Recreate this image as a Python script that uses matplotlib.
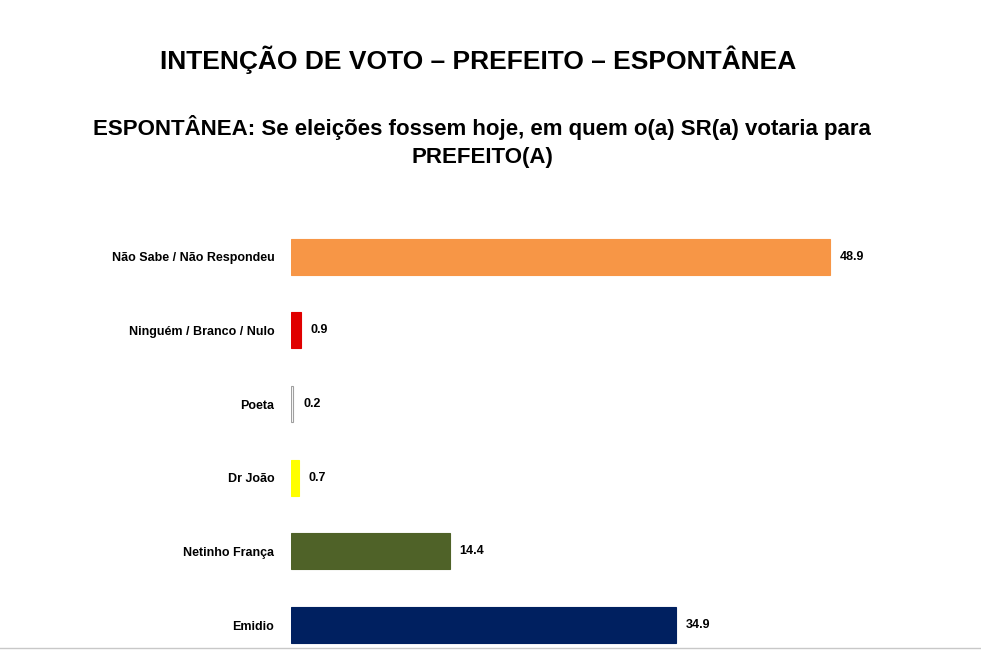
import matplotlib
matplotlib.use("Agg")
import matplotlib.pyplot as plt

categories = ["Emidio", "Netinho França", "Dr João", "Poeta", "Ninguém / Branco / Nulo", "Não Sabe / Não Respondeu"]
values = [34.9, 14.4, 0.7, 0.2, 0.9, 48.9]
colors = ["#002060", "#4F6228", "#FFFF00", "#FFFFFF", "#E00000", "#F79646"]
edges = ["#002060", "#4F6228", "#FFFF00", "#A0A0A0", "#E00000", "#F79646"]

plt.rcParams['font.family'] = ['Liberation Sans', 'DejaVu Sans']
fig = plt.figure(figsize=(9.81, 6.51), dpi=100)
ax = fig.add_axes([291/981, 0, (960-291)/981, (651-220)/651])
ys = range(len(categories))
ax.barh(ys, values, height=0.49, color=colors, edgecolor=edges, linewidth=0.8)
for y, v in zip(ys, values):
    ax.text(v + 0.9, y, f"{v:.1f}", va="center", ha="left", fontsize=9, fontweight="bold")
ax.set_yticks(list(ys))
ax.set_yticklabels(categories, fontsize=9, fontweight="bold")
ax.tick_params(axis="y", length=0, pad=12)
ax.set_xticks([])
ax.set_xlim(0, 60.7)
ax.set_ylim(-0.353, 5.5)
for s in ["top", "right", "bottom", "left"]:
    ax.spines[s].set_visible(False)

fig.text(478/981, 1-60/651, "INTENÇÃO DE VOTO – PREFEITO – ESPONTÂNEA", ha="center", va="center", fontsize=19, fontweight="bold")
fig.text(482/981, 1-128/651, "ESPONTÂNEA: Se eleições fossem hoje, em quem o(a) SR(a) votaria para", ha="center", va="center", fontsize=16, fontweight="bold")
fig.text(482/981, 1-157/651, "PREFEITO(A)", ha="center", va="center", fontsize=16, fontweight="bold")
fig.add_artist(plt.Line2D([0, 1], [3/651, 3/651], color="#C8C8C8", lw=1))
fig.savefig("out.png", dpi=100)
